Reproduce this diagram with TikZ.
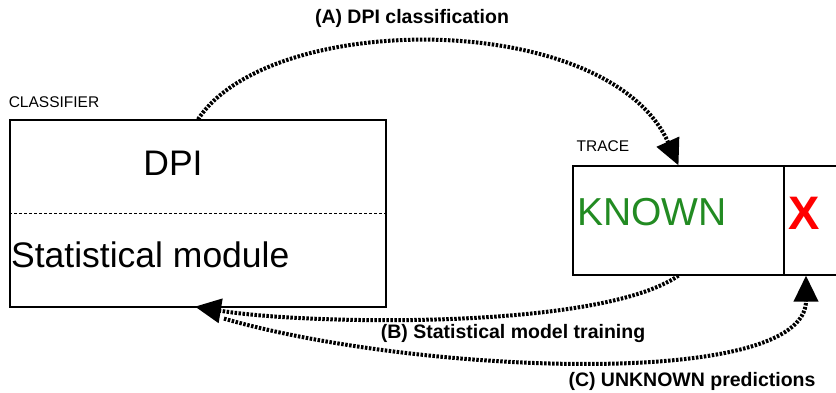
\documentclass[tikz,border=0pt]{standalone}
\usepackage{fontspec}
\setmainfont{Liberation Sans}
\usepackage{tikz}
\usetikzlibrary{arrows.meta}

\definecolor{knowngreen}{RGB}{34,139,34}

\begin{document}
\begin{tikzpicture}
		[x=1pt, y=-1pt,
		 box/.style = {draw, line width=1.2pt, rectangle, inner sep=0pt},
		 big/.style = {font=\fontsize{35.5}{40}\selectfont, inner sep=0pt},
		 tag/.style = {font=\fontsize{15.5}{18}\selectfont, inner sep=0pt},
		 lbl/.style = {font=\bfseries\fontsize{19.5}{22}\selectfont, inner sep=0pt},
		 flow/.style = {line width=4pt, dash pattern=on 2.5pt off 1.5pt,
		                -{Triangle[length=26pt,width=24pt]}}]
        \useasboundingbox (0,0) rectangle (836,392);

        \node[box, minimum width=376pt, minimum height=187pt] (clf) at (198,213.5) {};
        \node[box, minimum width=211pt, minimum height=109pt] (known) at (678.5,220.5) {};
        \node[box, minimum width=56pt, minimum height=109pt] (xbox) at (812,220.5) {};
        \draw[line width=0.8pt, dash pattern=on 3pt off 2pt] (clf.west) -- (clf.east);

        \node[tag] (clftag) at (54,102) {CLASSIFIER};
        \node[tag] (tracetag) at (603,146) {TRACE};
        \node[big] (dpi) at (173,163) {DPI};
        \node[big, anchor=west] (stat) at (11,255) {Statistical module};
        \node[big, anchor=west, text=knowngreen, font=\fontsize{39}{44}\selectfont] (kn) at (577,212) {KNOWN};
        \node[big, text=red, font=\bfseries\fontsize{47}{50}\selectfont] (x) at (804,213) {X};

        \draw[flow] (clf.north) .. controls +(72,-110) and +(-70,-156) .. (known.north);
        \draw[flow] (known.south) .. controls +(-80,55) and +(110,18) .. ([xshift=-3pt,yshift=1pt]clf.south);
        \draw[flow] ([xshift=26pt,yshift=-11pt]clf.south) .. controls +(190,55) and +(0,115) .. ([xshift=-6pt]xbox.south);

        \node[lbl] (la) at (412,18) {(A) DPI classification};
        \node[lbl] (lb) at (513,333) {(B) Statistical model training};
        \node[lbl] (lc) at (692,381) {(C) UNKNOWN predictions};
	\end{tikzpicture}
\end{document}
